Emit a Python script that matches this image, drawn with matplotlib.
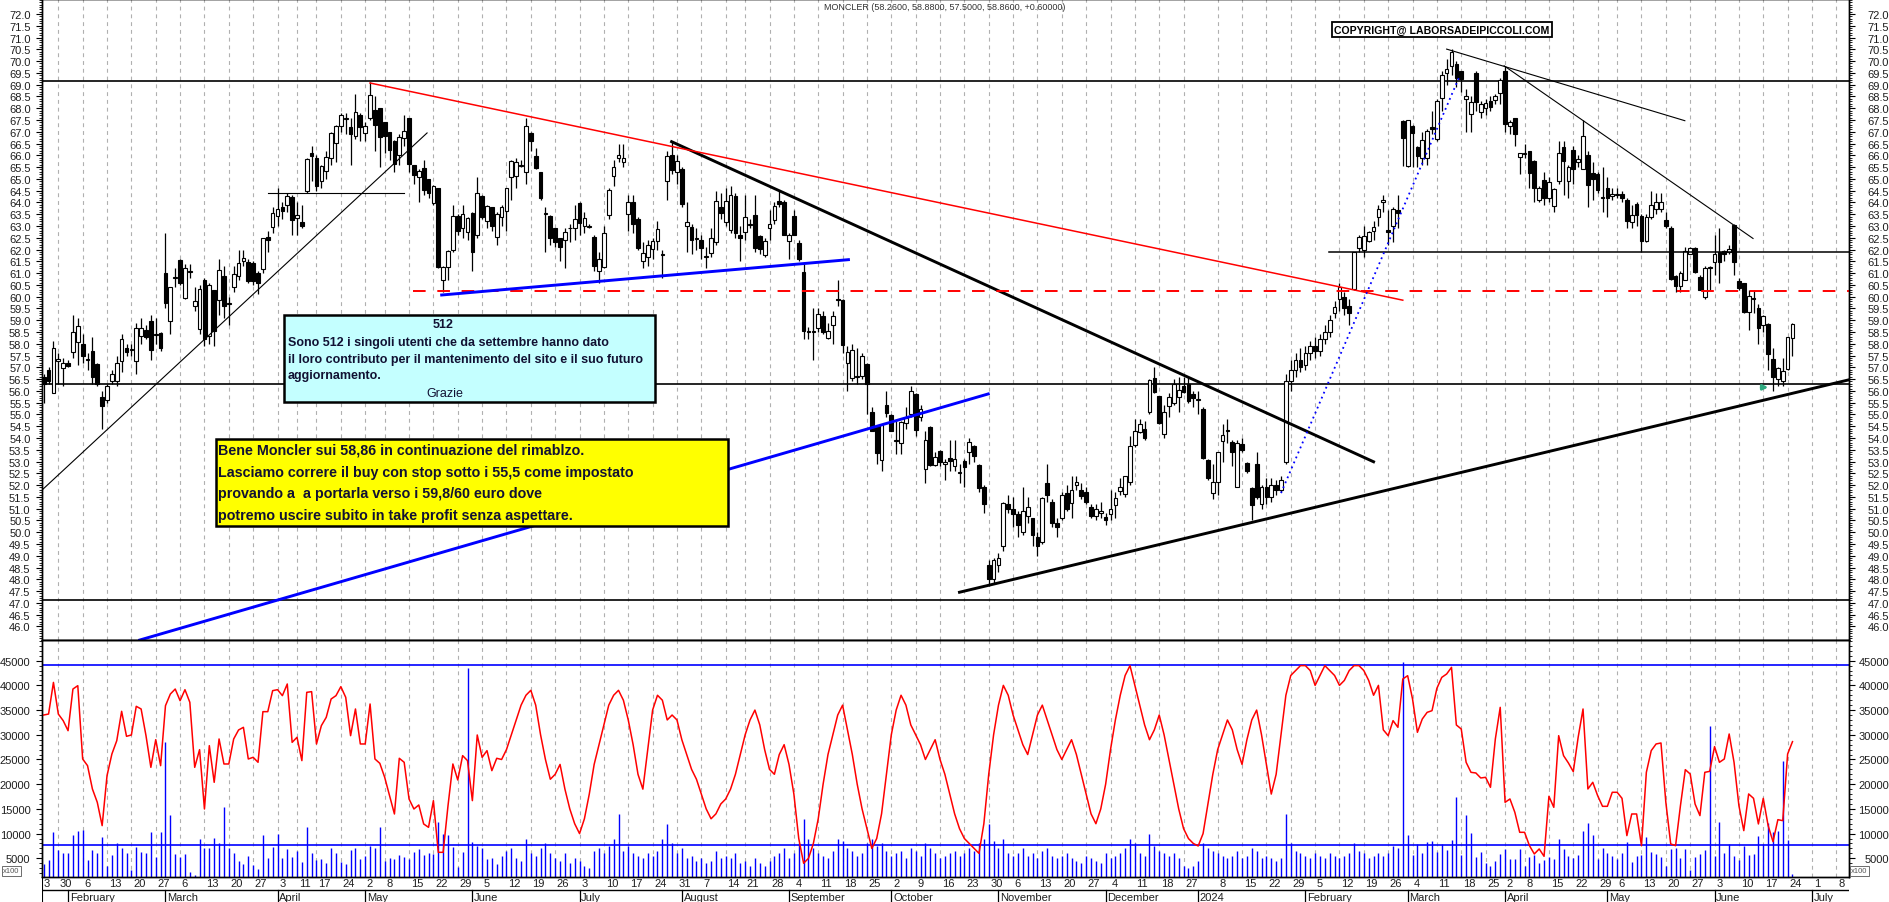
import numpy as np
import pandas as pd
import matplotlib
matplotlib.use("Agg")
import matplotlib.pyplot as plt
from matplotlib import font_manager
from matplotlib.patches import Rectangle

# ---------------- data ----------------
opens = [56.57, 56.88, 55.9, 57.28, 56.97, 57.18, 57.63, 58.06, 57.99, 57.3,
         57.7, 57.14, 55.76, 55.61, 56.43, 56.4, 57.28, 57.8, 57.74, 57.28,
         58.34, 58.59, 58.95, 58.37, 58.44, 61.0, 58.95, 60.8, 61.55, 59.93,
         61.04, 59.61, 58.62, 60.7, 58.34, 60.28, 59.85, 60.89, 59.69, 60.39,
         60.86, 61.5, 61.45, 61.43, 61.0, 61.17, 62.52, 62.94, 63.44, 63.79,
         63.89, 64.21, 63.32, 63.15, 64.5, 66.1, 65.87, 64.9, 65.32, 65.87,
         66.51, 67.23, 67.56, 67.19, 66.83, 67.71, 66.93, 67.58, 67.92, 68.0,
         67.4, 67.0, 66.62, 66.01, 66.72, 67.58, 65.6, 65.06, 65.45, 64.99,
         63.97, 64.6, 60.72, 61.24, 61.99, 63.41, 62.9, 62.73, 63.54, 62.6,
         64.26, 63.2, 63.79, 62.55, 63.4, 63.62, 65.1, 65.13, 65.55, 65.28,
         66.95, 65.96, 65.28, 63.5, 63.41, 62.9, 62.47, 62.42, 62.9, 62.9,
         63.97, 63.0, 62.95, 62.54, 61.1, 61.28, 63.48, 65.13, 65.87, 65.7,
         63.5, 64.0, 63.3, 61.5, 61.7, 62.02, 62.37, 61.76, 64.9, 66.01,
         65.28, 65.42, 63.0, 62.97, 62.43, 62.4, 61.68, 61.85, 62.33, 63.79,
         63.15, 62.84, 64.26, 62.6, 62.76, 63.03, 63.46, 62.59, 61.78, 62.9,
         63.27, 64.07, 64.03, 62.35, 63.43, 62.26, 61.06, 58.5, 58.49, 58.67,
         59.16, 58.24, 58.8, 59.9, 59.87, 57.17, 56.53, 56.58, 56.64, 57.14,
         55.09, 54.49, 53.06, 55.4, 54.98, 53.88, 53.77, 54.62, 55.0, 55.86,
         54.9, 52.68, 54.47, 52.85, 53.43, 52.89, 53.13, 52.8, 52.52, 53.03,
         53.42, 53.64, 52.85, 51.9, 48.6, 48.0, 48.6, 49.4, 51.19, 51.0,
         50.77, 50.0, 50.7, 50.6, 49.8, 49.6, 52.08, 51.3, 50.4, 50.6,
         51.66, 51.26, 52.0, 51.8, 51.7, 51.09, 50.7, 50.8, 50.66, 50.77,
         51.15, 51.76, 51.62, 52.11, 53.7, 54.24, 54.4, 55.11, 56.53, 55.77,
         54.17, 55.37, 55.48, 55.72, 56.22, 56.29, 55.87, 55.63, 55.23, 53.08,
         51.66, 52.11, 53.88, 54.28, 53.81, 51.9, 53.74, 52.93, 51.86, 52.9,
         51.2, 51.9, 51.5, 52.0, 51.8, 53.0, 56.4, 56.9, 57.3, 57.1,
         57.6, 57.9, 57.7, 58.2, 58.5, 59.3, 59.9, 60.0, 59.6, 60.32,
         62.05, 61.99, 62.37, 62.8, 63.37, 64.0, 62.83, 62.98, 63.69, 67.47,
         65.53, 67.23, 66.36, 65.87, 65.87, 67.2, 66.68, 68.42, 69.5, 69.79,
         69.88, 69.58, 68.4, 67.74, 69.5, 67.84, 68.0, 68.3, 68.33, 68.64,
         69.57, 67.23, 67.57, 65.93, 66.06, 66.17, 65.75, 64.1, 64.96, 64.2,
         63.86, 64.89, 66.36, 64.89, 66.23, 65.72, 65.42, 66.01, 65.25, 65.2,
         64.2, 64.6, 64.28, 64.33, 64.36, 64.1, 63.15, 63.93, 63.44, 62.35,
         63.4, 63.72, 63.72, 63.25, 62.91, 60.86, 60.46, 60.72, 61.81, 62.05,
         60.85, 59.97, 61.22, 61.48, 61.88, 61.95, 61.88, 63.04, 60.68, 60.56,
         59.36, 59.95, 59.5, 58.79, 58.84, 57.35, 56.5, 56.43, 56.93, 58.26]
highs = [56.7, 57.0, 58.1, 57.6, 57.4, 57.3, 59.2, 59.1, 58.4, 57.6,
         58.3, 57.2, 56.0, 56.3, 56.9, 57.5, 58.4, 58.0, 58.0, 58.9,
         59.1, 58.8, 59.2, 59.1, 58.5, 62.7, 60.4, 61.2, 61.6, 61.4,
         61.4, 60.4, 60.5, 60.8, 60.6, 60.3, 61.6, 61.3, 60.0, 61.3,
         62.0, 62.0, 61.6, 61.5, 61.1, 62.5, 62.8, 63.8, 64.6, 64.0,
         64.4, 64.3, 64.0, 63.9, 65.9, 66.4, 66.0, 65.6, 66.2, 67.0,
         67.3, 67.8, 67.8, 67.6, 68.6, 67.8, 67.4, 69.1, 68.5, 68.0,
         67.4, 67.0, 66.65, 66.9, 67.7, 67.6, 65.6, 65.4, 65.8, 65.0,
         64.75, 64.6, 61.3, 62.0, 63.9, 63.5, 63.9, 63.4, 63.6, 65.1,
         64.3, 63.9, 63.8, 63.6, 63.9, 64.6, 65.8, 65.9, 65.8, 67.6,
         67.0, 66.3, 65.3, 63.8, 63.45, 62.9, 62.5, 62.9, 63.1, 63.9,
         64.0, 63.6, 63.1, 62.6, 61.9, 63.0, 64.6, 65.8, 66.5, 66.5,
         64.3, 64.3, 63.4, 62.3, 62.4, 62.5, 63.2, 62.0, 66.2, 66.6,
         66.0, 65.5, 64.0, 63.1, 62.9, 62.6, 62.1, 62.9, 64.5, 64.4,
         64.6, 64.7, 64.4, 63.0, 64.3, 63.3, 64.3, 62.6, 62.5, 63.7,
         64.0, 64.5, 64.1, 62.7, 63.7, 62.4, 61.4, 58.7, 59.5, 59.5,
         59.4, 58.9, 59.4, 60.7, 59.9, 57.9, 58.0, 57.8, 57.6, 57.2,
         55.3, 54.5, 54.6, 56.0, 55.0, 54.7, 54.7, 55.3, 56.2, 55.9,
         55.4, 54.3, 54.5, 53.4, 53.5, 53.1, 53.9, 53.9, 52.9, 53.1,
         54.0, 53.7, 52.9, 52.0, 48.8, 48.9, 49.1, 51.3, 51.6, 51.5,
         50.9, 51.9, 51.5, 50.6, 50.0, 51.5, 52.9, 51.4, 50.6, 51.7,
         52.0, 52.4, 52.4, 52.1, 51.9, 51.2, 51.2, 51.3, 50.8, 51.8,
         51.7, 52.3, 52.4, 54.1, 54.8, 54.8, 54.7, 56.5, 57.0, 55.8,
         55.4, 55.9, 56.5, 56.6, 56.6, 56.6, 56.0, 56.0, 55.3, 53.1,
         52.9, 53.4, 54.6, 54.8, 53.9, 53.9, 54.0, 53.0, 51.9, 53.4,
         52.0, 52.3, 52.3, 52.2, 52.4, 56.7, 57.3, 57.6, 57.8, 57.9,
         58.1, 58.3, 58.4, 58.8, 59.2, 59.8, 60.6, 60.2, 59.9, 61.9,
         62.6, 63.0, 62.8, 63.2, 63.9, 64.3, 63.7, 63.8, 64.3, 67.5,
         67.5, 67.3, 66.4, 67.0, 67.1, 67.9, 68.4, 69.6, 70.1, 70.5,
         70.0, 69.6, 68.8, 68.5, 69.6, 68.3, 68.4, 68.5, 68.6, 69.3,
         69.8, 67.5, 67.6, 66.1, 66.5, 66.2, 65.8, 64.7, 65.3, 65.1,
         64.6, 66.6, 66.6, 65.6, 66.4, 66.0, 67.5, 66.2, 65.7, 65.3,
         65.5, 65.1, 64.6, 64.6, 64.5, 64.2, 63.9, 64.0, 63.5, 63.5,
         64.5, 64.4, 64.4, 63.6, 63.0, 60.9, 61.1, 62.1, 62.1, 62.1,
         60.9, 61.3, 61.3, 62.6, 62.9, 62.0, 62.2, 63.1, 60.8, 60.6,
         60.3, 60.3, 59.7, 59.2, 58.9, 57.8, 57.0, 57.4, 58.3, 58.88]
lows = [55.5, 56.3, 55.9, 56.3, 56.2, 57.0, 57.4, 57.1, 57.2, 56.9,
        56.3, 56.2, 54.4, 55.5, 56.3, 56.2, 56.8, 57.5, 57.5, 56.7,
        58.0, 58.2, 57.3, 58.0, 57.7, 59.5, 58.4, 60.4, 60.5, 59.9,
        60.8, 59.4, 58.4, 57.9, 58.0, 57.9, 59.2, 59.1, 58.8, 60.2,
        60.7, 61.3, 60.6, 60.5, 60.1, 61.0, 61.9, 62.7, 63.0, 63.3,
        63.6, 62.6, 62.6, 62.9, 64.4, 64.9, 64.5, 64.6, 65.0, 65.6,
        65.7, 67.0, 66.9, 65.6, 66.7, 66.6, 66.6, 67.5, 66.2, 65.5,
        66.1, 65.8, 65.3, 65.6, 66.4, 65.3, 64.8, 64.0, 64.3, 64.2,
        63.9, 61.2, 60.2, 60.7, 61.9, 62.6, 62.5, 62.4, 61.1, 62.5,
        63.3, 62.9, 62.8, 62.2, 63.0, 62.8, 64.1, 64.6, 65.5, 64.8,
        66.2, 65.4, 64.1, 61.9, 62.2, 62.1, 61.5, 61.2, 62.3, 62.4,
        62.6, 62.7, 62.9, 61.1, 60.6, 61.2, 63.3, 64.7, 65.7, 65.5,
        62.8, 62.7, 62.0, 61.2, 61.3, 61.6, 62.0, 60.8, 64.1, 65.2,
        64.8, 63.8, 61.9, 61.8, 62.0, 61.6, 61.2, 61.7, 62.2, 63.3,
        63.0, 62.7, 62.5, 61.5, 62.4, 62.9, 61.9, 61.8, 61.7, 62.4,
        63.1, 63.8, 62.6, 61.6, 62.6, 61.5, 58.2, 58.2, 57.3, 58.5,
        58.4, 58.2, 58.0, 59.6, 57.6, 56.0, 56.4, 56.3, 56.5, 55.0,
        54.3, 52.9, 52.6, 54.9, 54.3, 53.3, 53.3, 54.4, 54.9, 54.1,
        54.7, 52.1, 52.8, 52.8, 52.8, 52.2, 52.6, 52.6, 52.1, 51.9,
        52.9, 53.0, 51.7, 50.8, 47.7, 47.8, 48.3, 49.2, 50.8, 50.2,
        49.8, 49.9, 50.4, 49.4, 49.0, 49.5, 51.3, 50.2, 49.8, 50.5,
        50.9, 50.6, 51.8, 51.4, 51.2, 50.6, 50.5, 50.6, 50.3, 50.5,
        50.6, 51.6, 51.5, 52.0, 53.6, 54.2, 53.9, 55.0, 55.9, 54.6,
        54.0, 54.9, 55.4, 55.1, 55.9, 55.5, 55.3, 55.0, 53.1, 52.2,
        51.4, 51.6, 53.0, 53.8, 52.8, 51.9, 53.4, 52.5, 50.5, 51.4,
        51.0, 51.2, 51.3, 51.6, 51.7, 52.9, 56.0, 56.6, 56.8, 56.9,
        57.3, 57.4, 57.5, 58.0, 58.3, 59.1, 59.4, 59.2, 58.8, 60.3,
        61.9, 61.7, 62.3, 62.4, 63.0, 63.6, 62.2, 62.3, 62.9, 65.55,
        65.5, 65.5, 65.5, 65.6, 65.6, 66.9, 66.6, 67.9, 69.0, 69.4,
        68.9, 68.7, 67.0, 67.0, 67.9, 67.6, 67.7, 67.9, 68.2, 68.2,
        67.0, 66.9, 66.4, 65.2, 65.9, 64.6, 64.0, 64.0, 63.9, 64.0,
        63.6, 64.8, 64.3, 64.2, 64.8, 65.5, 65.4, 63.8, 64.1, 64.4,
        63.6, 63.4, 64.1, 64.2, 64.0, 62.9, 62.9, 63.0, 61.9, 62.3,
        63.3, 63.5, 63.6, 62.9, 60.7, 60.2, 60.2, 60.7, 61.8, 61.0,
        60.3, 59.9, 60.3, 60.9, 60.6, 61.5, 61.8, 60.9, 60.3, 59.3,
        58.6, 59.3, 58.0, 58.5, 56.9, 56.0, 56.2, 56.2, 56.9, 57.5]
closes = [56.29, 56.43, 57.8, 57.36, 57.2, 57.07, 58.52, 58.76, 57.46, 57.32,
          56.6, 56.29, 55.34, 56.2, 56.71, 57.18, 58.2, 57.67, 57.76, 58.66,
          58.66, 58.3, 57.73, 58.39, 57.8, 59.71, 60.39, 60.84, 60.6, 61.2,
          61.08, 59.8, 60.32, 58.2, 60.49, 58.55, 61.13, 59.59, 59.72, 60.97,
          61.43, 61.62, 60.68, 60.65, 60.58, 62.47, 62.42, 63.55, 63.72, 63.62,
          64.26, 63.27, 63.46, 63.01, 65.84, 65.96, 64.68, 65.53, 65.95, 66.95,
          67.23, 67.71, 67.6, 66.9, 67.82, 67.19, 67.23, 68.57, 67.3, 66.76,
          66.8, 66.24, 65.63, 66.79, 67.02, 65.63, 65.18, 65.32, 64.54, 64.38,
          64.71, 61.24, 61.24, 61.95, 63.41, 62.77, 63.5, 63.34, 61.9, 64.4,
          63.4, 63.83, 63.01, 63.51, 63.8, 64.6, 65.75, 65.7, 65.6, 67.23,
          66.62, 65.46, 64.17, 63.56, 62.47, 62.3, 62.09, 62.73, 62.93, 63.3,
          63.12, 63.35, 62.99, 61.31, 61.6, 62.7, 64.54, 65.49, 66.03, 65.9,
          64.0, 63.1, 62.05, 61.85, 62.2, 62.37, 62.87, 61.8, 65.96, 65.39,
          65.74, 63.93, 63.15, 62.42, 62.47, 62.07, 61.72, 62.47, 64.07, 63.55,
          64.07, 64.33, 62.69, 62.47, 63.37, 63.07, 62.06, 62.02, 62.35, 63.1,
          63.86, 63.93, 62.62, 62.62, 62.62, 61.6, 58.53, 58.52, 58.51, 59.26,
          58.5, 58.55, 59.16, 59.87, 57.95, 57.67, 57.75, 56.62, 57.46, 56.29,
          54.31, 53.36, 54.56, 55.06, 54.31, 53.92, 54.66, 54.83, 56.0, 54.33,
          55.25, 53.91, 52.85, 53.2, 52.96, 53.0, 53.03, 53.1, 52.56, 52.75,
          53.84, 53.25, 51.86, 51.2, 48.0, 48.8, 48.9, 51.22, 50.98, 50.77,
          50.3, 50.9, 51.05, 49.9, 49.4, 51.44, 51.57, 50.4, 50.2, 51.6,
          50.98, 51.79, 52.14, 51.55, 51.29, 50.7, 51.0, 50.9, 50.5, 51.0,
          51.47, 51.93, 52.37, 53.64, 54.31, 54.59, 54.02, 56.47, 55.94, 54.63,
          55.11, 55.73, 56.29, 56.05, 55.96, 55.58, 55.68, 55.67, 53.13, 52.28,
          52.11, 53.42, 54.12, 54.32, 53.42, 53.78, 53.5, 52.61, 51.15, 51.5,
          51.9, 51.5, 52.0, 51.8, 52.2, 56.4, 56.9, 57.3, 57.0, 57.6,
          57.9, 57.7, 58.2, 58.5, 59.0, 59.55, 60.4, 59.5, 59.3, 61.88,
          62.52, 62.56, 62.73, 62.94, 63.72, 64.1, 62.73, 63.72, 63.55, 66.72,
          67.5, 66.93, 65.97, 66.67, 67.02, 67.12, 68.3, 69.41, 69.65, 70.38,
          69.29, 69.25, 68.52, 68.26, 68.28, 68.2, 68.21, 68.04, 68.53, 69.18,
          67.31, 67.4, 66.92, 66.08, 66.1, 65.26, 64.62, 64.62, 64.2, 64.87,
          64.58, 66.09, 65.74, 65.49, 65.42, 65.86, 66.83, 64.75, 65.0, 64.54,
          64.22, 64.17, 64.37, 64.35, 64.19, 63.22, 63.46, 63.46, 62.35, 63.4,
          63.89, 64.03, 64.03, 62.98, 60.75, 60.46, 60.99, 61.95, 62.05, 61.03,
          60.3, 61.2, 61.26, 61.81, 61.46, 61.81, 62.02, 61.46, 60.35, 59.33,
          60.01, 59.88, 58.65, 59.16, 57.56, 56.57, 56.99, 56.83, 58.27, 58.86]
volumes = [3850, 4660, 10260, 6750, 6080, 6080, 9720, 10460, 10730, 4660,
           6750, 6080, 9320, 3520, 5670, 8100, 7090, 6080, 2700, 7290,
           6280, 6080, 10330, 5340, 10260, 28600, 13770, 5940, 5340, 5880,
           2200, 1600, 8910, 7090, 7090, 9110, 8100, 15390, 7090, 6080,
           4390, 3850, 5400, 3720, 2840, 9650, 5070, 7290, 9920, 5070,
           6890, 5340, 6480, 4260, 11340, 6080, 4730, 4870, 4060, 7090,
           6080, 4260, 3850, 6690, 7090, 4870, 5470, 7560, 7090, 11340,
           4390, 5070, 4870, 5670, 5340, 4930, 6280, 6890, 5670, 6080,
           5880, 12420, 9920, 9650, 7290, 3250, 6280, 43510, 8240, 7560,
           7090, 4870, 5070, 3850, 5500, 6500, 7000, 5000, 4500, 9000,
           6000, 5500, 7000, 8000, 6000, 5000, 4500, 6000, 4000, 5000,
           4500, 3500, 3000, 6500, 7000, 6000, 7500, 9000, 14000, 6500,
           7500, 6000, 5500, 5000, 6000, 5500, 6500, 9000, 12000, 8000,
           6000, 7000, 5000, 5500, 4500, 5000, 4000, 4500, 6500, 5000,
           5500, 5000, 6000, 4000, 4500, 3500, 5000, 4000, 3500, 4500,
           5500, 6000, 7000, 5000, 6000, 8000, 13000, 9000, 7000, 6000,
           5500, 5000, 6500, 9000, 8500, 7000, 6500, 5500, 6000, 8000,
           9000, 7500, 8000, 6500, 5500, 6000, 6500, 5000, 7000, 6500,
           5500, 8000, 7000, 6000, 5000, 5500, 6000, 6500, 5500, 6000,
           7000, 6500, 8000, 9000, 12000, 8500, 7000, 9000, 6000, 5500,
           6000, 7000, 5500, 6000, 5000, 6500, 7000, 5500, 5000, 5500,
           6000, 5000, 4500, 4000, 5500, 5000, 4500, 4000, 6000, 5000,
           5500, 6000, 7000, 9000, 8000, 6000, 5500, 10000, 7500, 6500,
           6000, 5500, 6000, 5000, 3500, 3000, 3500, 4500, 8000, 7000,
           6500, 6000, 5500, 5000, 5500, 6500, 5000, 5500, 7000, 6500,
           5000, 5500, 5000, 4500, 5000, 14000, 8000, 6500, 6000, 5500,
           5000, 6000, 5500, 5000, 6000, 5500, 5000, 5500, 6000, 8000,
           6500, 6000, 5000, 5500, 6000, 5500, 6000, 7560, 7090, 44800,
           9720, 5670, 7900, 6080, 8310, 8510, 6280, 7900, 6690, 8710,
           17410, 5670, 13770, 10130, 5270, 6280, 4060, 3450, 4460, 5880,
           6890, 4870, 4870, 6890, 3450, 5270, 5670, 4060, 4660, 5270,
           4870, 8910, 6890, 5470, 5130, 5670, 10530, 12150, 9720, 4870,
           7090, 6080, 5470, 4870, 6080, 8310, 4260, 5470, 5670, 9320,
           6280, 5880, 5270, 3450, 6890, 7090, 5070, 6890, 2640, 5270,
           5880, 6690, 31850, 5470, 12420, 6080, 7900, 5470, 4660, 7560,
           5670, 5810, 9520, 7900, 12150, 10400, 10530, 24760, 8780, 1760]
oscillator = [34000, 34200, 40600, 34200, 32860, 30830, 39260, 39940, 25100, 23750,
              19030, 16330, 11610, 21730, 26110, 28810, 34750, 29690, 29960, 35760,
              35220, 29820, 23410, 29010, 23750, 35890, 38250, 39260, 36900, 39130,
              36570, 23410, 26990, 14980, 27800, 20380, 29150, 24090, 24090, 29150,
              30970, 31510, 25100, 25440, 24430, 34680, 34680, 38930, 39130, 37920,
              40280, 28470, 29490, 24770, 38590, 38730, 28140, 31850, 33530, 37240,
              37920, 39740, 37580, 29820, 35220, 28140, 28140, 36230, 25100, 24220,
              21390, 17680, 13970, 25240, 24430, 17000, 14980, 15790, 11950, 11270,
              16670, 6210, 6210, 15660, 24090, 20850, 25780, 24770, 16670, 29960,
              25440, 26790, 22740, 25240, 25000, 27000, 30000, 33000, 36000, 38000,
              39000, 36000, 30000, 25000, 21000, 22000, 24000, 19000, 15000, 12000,
              10000, 13000, 18000, 24000, 28000, 32000, 36000, 38000, 39000, 37000,
              33000, 28000, 22000, 19000, 27000, 35000, 38000, 37000, 33000, 34000,
              33000, 29000, 26000, 23000, 21000, 18000, 15000, 13000, 14000, 16000,
              17000, 19000, 22000, 26000, 30000, 33000, 35000, 32000, 27000, 23000,
              22000, 26000, 28000, 24000, 18000, 9000, 4000, 5000, 8000, 13000,
              20000, 26000, 30000, 34000, 36000, 31000, 26000, 20000, 15000, 11000,
              7000, 9000, 14000, 22000, 30000, 35000, 38000, 36000, 32000, 30000,
              28000, 25000, 27000, 29000, 25000, 22000, 18000, 14000, 11000, 9000,
              8000, 7000, 6000, 12000, 22000, 30000, 36000, 40000, 38000, 34000,
              31000, 28000, 26000, 30000, 34000, 36000, 33000, 30000, 27000, 25000,
              27000, 29000, 26000, 22000, 18000, 14000, 12000, 15000, 20000, 27000,
              33000, 38000, 42000, 44000, 40000, 36000, 32000, 29000, 31000, 34000,
              30000, 25000, 20000, 15000, 11000, 9000, 8000, 7500, 10000, 16000,
              22000, 27000, 30000, 33000, 31000, 27000, 24000, 29000, 33000, 35000,
              30000, 24000, 18000, 22000, 30000, 38000, 42000, 43000, 44000, 44000,
              43000, 40000, 42000, 44000, 43000, 42000, 40000, 41000, 43000, 44000,
              44000, 43000, 41000, 38000, 40000, 31000, 29820, 32860, 31510, 41290,
              41960, 37240, 30500, 33190, 34540, 34880, 39400, 41620, 42300, 43650,
              31980, 31170, 24430, 22400, 22270, 21260, 21390, 19370, 29150, 35550,
              16330, 17010, 14310, 10260, 10260, 7560, 5880, 6890, 5400, 17550,
              15320, 29820, 25780, 24290, 22540, 29490, 35220, 19030, 20380, 17680,
              15520, 15520, 18360, 18360, 17140, 9590, 13970, 13970, 7560, 22400,
              26790, 28140, 28340, 16330, 7900, 7560, 15660, 22940, 22060, 15990,
              13640, 22400, 22600, 27600, 24430, 25100, 30160, 24430, 15660, 10600,
              18020, 17140, 11950, 17140, 11610, 8370, 12820, 12620, 26110, 28610]

first_day = "2023-01-25"
last_axis_day = "2024-07-12"
holidays = ["2023-04-07", "2023-04-10", "2023-05-01", "2023-08-15", "2023-12-25",
            "2023-12-26", "2024-01-01", "2024-03-29", "2024-04-01", "2024-05-01"]
month_names = ["January", "February", "March", "April", "May", "June", "July",
               "August", "September", "October", "November", "December"]

# analyst's drawn levels / trendlines: (x0, p0, x1, p1) in trading-day index / price
hlevels = [69.14, 56.29, 47.13]
thin_black = [(-0.55, 51.75, 78.7, 66.95), (46.0, 64.38, 74.0, 64.38),
              (288.0, 70.51, 336.9, 67.47), (299.8, 69.8, 350.9, 62.47)]
thick_black = [(128.9, 66.58, 273.0, 52.99), (188.0, 47.45, 370.6, 56.47)]
red_trend = (67.0, 69.07, 279.0, 59.85)
red_dashed = (75.9, 60.22)
black_right = (263.9, 61.88)
blue_trends = [(81.7, 60.07, 165.2, 61.57), (19.7, 45.42, 193.9, 55.87)]
blue_dotted = (254.0, 51.66, 290.7, 69.38)
vol_levels = [44070, 7630]

# ---------------- figure ----------------
names = {f.name for f in font_manager.fontManager.ttflist}
base_font = "Liberation Sans" if "Liberation Sans" in names else "DejaVu Sans"
narrow_font = "Liberation Sans Narrow" if "Liberation Sans Narrow" in names else base_font
plt.rcParams["font.family"] = [base_font, "DejaVu Sans"]

W, H = 1890, 903
fig = plt.figure(figsize=(W / 100, H / 100), dpi=100)
fig.patch.set_facecolor("white")
x_left, x_right = 41.7, 1849.0
y_split, y_vbot = 641.3, 878.3
fx = lambda px: px / W
fy = lambda py: 1 - py / H

ax_p = fig.add_axes([fx(x_left), fy(y_split), fx(x_right) - fx(x_left), y_split / H])
ax_v = fig.add_axes([fx(x_left), fy(y_vbot), fx(x_right) - fx(x_left), (y_vbot - y_split) / H])
ax_d = fig.add_axes([fx(x_left), 0, fx(x_right) - fx(x_left), (H - y_vbot) / H])

days = pd.bdate_range(first_day, last_axis_day).difference(pd.to_datetime(holidays))
n = len(closes)
x = np.arange(n)
xlim = (-0.41, 370.6)

week_pos, week_lbl, month_pos, month_lbl = [], [], [], []
for i, d in enumerate(days):
    if i > 0 and d.isocalendar()[1] != days[i - 1].isocalendar()[1]:
        if not (d.month == 1 and d.day <= 3):
            week_pos.append(i)
            week_lbl.append(str(d.day))
    if i > 0 and d.month != days[i - 1].month:
        month_pos.append(i)
        month_lbl.append(str(d.year) if d.month == 1 else month_names[d.month - 1])

grid_kw = dict(color="#b0b0b0", lw=0.8, linestyle=(0, (3.5, 3.5)), zorder=0.5)
ink = "#1e1e1e"

# ---- price panel ----
ax_p.set_xlim(*xlim)
ax_p.set_ylim(45.41, 72.637)
for p in week_pos:
    ax_p.axvline(p, **grid_kw)
o = np.array(opens); h = np.array(highs); l = np.array(lows); c = np.array(closes)
ax_p.vlines(x, l, h, color="black", lw=0.9, zorder=3)
up = c >= o
ax_p.bar(x, np.maximum(np.abs(c - o), 0.035), bottom=np.minimum(o, c), width=0.76,
         color=np.where(up, "white", "black"), edgecolor="black", linewidth=0.8, zorder=4)

for lv in hlevels:
    ax_p.axhline(lv, color="black", lw=1.2, zorder=2)
for x0, p0, x1, p1 in thin_black:
    ax_p.plot([x0, x1], [p0, p1], color="black", lw=0.8, zorder=5)
for x0, p0, x1, p1 in thick_black:
    ax_p.plot([x0, x1], [p0, p1], color="black", lw=2.1, zorder=5)
ax_p.plot(red_trend[::2], red_trend[1::2], color="#ff0000", lw=1.1, zorder=5)
ax_p.plot([red_dashed[0], xlim[1]], [red_dashed[1]] * 2, color="#ff0000", lw=1.4,
          linestyle=(0, (6.5, 6.0)), zorder=5)
ax_p.plot([black_right[0], xlim[1]], [black_right[1]] * 2, color="black", lw=1.1, zorder=5)
for x0, p0, x1, p1 in blue_trends:
    ax_p.plot([x0, x1], [p0, p1], color="#0000ff", lw=2.1, zorder=5)
ax_p.plot(blue_dotted[::2], blue_dotted[1::2], color="#0000ff", lw=1.3,
          linestyle=(0, (1, 2)), zorder=5)
ax_p.annotate("", xy=(354.6, 56.15), xytext=(352.0, 56.15),
              arrowprops=dict(arrowstyle="-|>", color="#2eaa80", lw=2.0, mutation_scale=7),
              zorder=6)

p_major = np.arange(46.0, 72.01, 0.5)
ax_p.set_yticks(p_major)
ax_p.set_yticks(np.arange(45.5, 72.61, 0.1), minor=True)
ax_p.set_yticklabels([f"{v:.1f}" for v in p_major])
ax_p.set_xticks([])
ax_p.tick_params(axis="y", which="major", length=4, width=0.8, pad=4,
                 labelsize=8, labelcolor=ink, direction="out")
ax_p.tick_params(axis="y", which="minor", length=2, width=0.6, direction="out")
ax_pr = ax_p.twinx()
ax_pr.set_ylim(ax_p.get_ylim())
ax_pr.set_yticks(p_major)
ax_pr.set_yticks(np.arange(45.5, 72.61, 0.1), minor=True)
ax_pr.set_yticklabels([f"{v:.1f}" for v in p_major])
ax_pr.tick_params(axis="y", which="major", length=4, width=0.8, pad=25,
                  labelsize=8, labelcolor=ink, direction="out")
ax_pr.tick_params(axis="y", which="minor", length=2, width=0.6, direction="out")
for t in ax_pr.get_yticklabels():
    t.set_horizontalalignment("right")

# ---- volume panel ----
ax_v.set_xlim(*xlim)
ax_v.set_ylim(1154, 49123)
for p in week_pos:
    ax_v.axvline(p, **grid_kw)
ax_v.vlines(x, 0, volumes, color="#0000ff", lw=1.0, zorder=2)
ax_v.plot(x, oscillator, color="#ff0000", lw=1.1, zorder=3)
for lv in vol_levels:
    ax_v.axhline(lv, color="#0000ff", lw=1.2, zorder=2.5)
v_major = np.arange(5000, 45001, 5000)
ax_v.set_yticks(v_major)
ax_v.set_yticks(np.arange(2000, 49001, 1000), minor=True)
ax_v.set_yticklabels([str(v) for v in v_major])
ax_v.set_xticks([])
ax_v.tick_params(axis="y", which="major", length=4, width=0.8, pad=4,
                 labelsize=8, labelcolor=ink, direction="out")
ax_v.tick_params(axis="y", which="minor", length=2, width=0.6, direction="out")
ax_vr = ax_v.twinx()
ax_vr.set_ylim(ax_v.get_ylim())
ax_vr.set_yticks(v_major)
ax_vr.set_yticks(np.arange(2000, 49001, 1000), minor=True)
ax_vr.set_yticklabels([str(v) for v in v_major])
ax_vr.tick_params(axis="y", which="major", length=4, width=0.8, pad=25,
                  labelsize=8, labelcolor=ink, direction="out")
ax_vr.tick_params(axis="y", which="minor", length=2, width=0.6, direction="out")
for t in ax_vr.get_yticklabels():
    t.set_horizontalalignment("right")
for a in (ax_p, ax_pr, ax_v, ax_vr):
    for s in a.spines.values():
        s.set_linewidth(1.0)

# ---- date rows ----
ax_d.set_xlim(*xlim)
ax_d.set_ylim(0, 1)
ax_d.axis("off")
ax_d.axhline(0.486, color="black", lw=1.0)
ax_d.axvline(xlim[0], color="black", lw=1.5)
ax_d.text(-0.1, 0.75, "3", fontsize=8, color=ink, ha="left", va="center")
for p, t in zip(week_pos, week_lbl):
    ax_d.text(p + 0.35, 0.75, t, fontsize=8, color=ink, ha="left", va="center")
for p, t in zip(month_pos, month_lbl):
    ax_d.plot([p, p], [0, 0.486], color="black", lw=0.9)
    ax_d.text(p + 0.35, 0.22, t, fontsize=8, color=ink, ha="left", va="center")

# ---- texts and boxes ----
fig.text(fx(945), fy(8), "MONCLER (58.2600, 58.8800, 57.5000, 58.8600, +0.60000)",
         fontsize=6.5, color="#333333", ha="center", va="center")
fig.text(fx(1442), fy(30.5), "COPYRIGHT@ LABORSADEIPICCOLI.COM", fontsize=7.6,
         fontweight="bold", color="black", ha="center", va="center",
         bbox=dict(boxstyle="square,pad=0.25", fc="white", ec="black", lw=1.3))
for xx in (3, 1851):
    fig.text(fx(xx), fy(872), "x100", fontsize=5.5, color="#555555", ha="left", va="center",
             bbox=dict(boxstyle="square,pad=0.15", fc="white", ec="#555555", lw=0.6))

box_col = "#111133"
fig.add_artist(Rectangle((fx(284.2), fy(402.5)), fx(655.4) - fx(284.2), (402.5 - 316.1) / H,
                         transform=fig.transFigure, fc="#c4ffff", ec="black", lw=1.8, zorder=10))
fig.text(fx(443), fy(325.3), "512", fontsize=9.0, fontweight="bold", color=box_col,
         ha="center", va="center", family=narrow_font, zorder=11)
cyan_lines = ["Sono 512 i singoli utenti che da settembre hanno dato",
              "il loro contributo per il mantenimento del sito e il suo futuro",
              "aggiornamento."]
for k, t in enumerate(cyan_lines):
    fig.text(fx(287.5), fy(342.8 + 16.85 * k), t, fontsize=9.0, fontweight="bold",
             color=box_col, ha="left", va="center", family=narrow_font, zorder=11)
fig.text(fx(444.5), fy(394), "Grazie", fontsize=9.0, color=box_col, ha="center",
         va="center", family=narrow_font, zorder=11)

fig.add_artist(Rectangle((fx(215.8), fy(527.4)), fx(728) - fx(215.8), (527.4 - 440.4) / H,
                         transform=fig.transFigure, fc="#ffff00", ec="black", lw=1.8, zorder=10))
yellow_lines = ["Bene Moncler sui 58,86 in continuazione del rimablzo.",
                "Lasciamo correre il buy con stop sotto i 55,5 come impostato",
                "provando a  a portarla verso i 59,8/60 euro dove",
                "potremo uscire subito in take profit senza aspettare."]
for k, t in enumerate(yellow_lines):
    fig.text(fx(218.5), fy(450.9 + 21.65 * k), t, fontsize=10.3, fontweight="bold",
             color=box_col, ha="left", va="center", zorder=11)

fig.savefig("out.png", dpi=100)
